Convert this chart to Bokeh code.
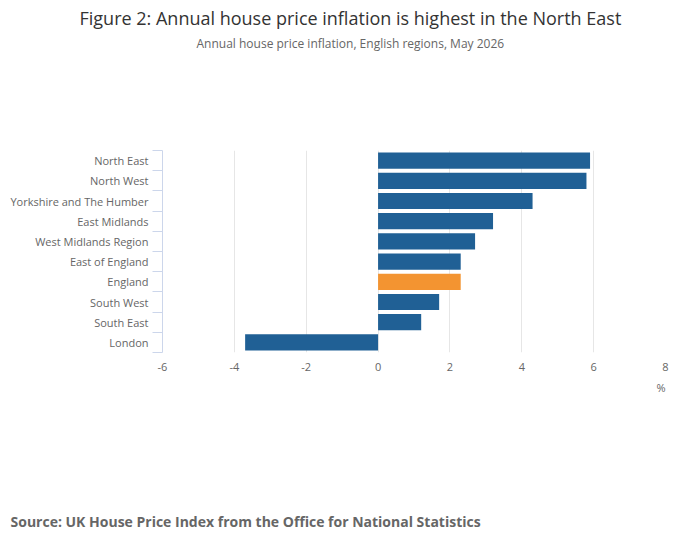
from bokeh.plotting import figure
from bokeh.models import ColumnDataSource, Range1d, FixedTicker, Title
from bokeh.embed import file_html
from bokeh.resources import INLINE

# ---- data ----
regions = ["North East", "North West", "Yorkshire and The Humber", "East Midlands",
           "West Midlands Region", "East of England", "England", "South West",
           "South East", "London"]
inflation = [5.9, 5.8, 4.3, 3.2, 2.7, 2.3, 2.3, 1.7, 1.2, -3.7]
x_ticks = [-6, -4, -2, 0, 2, 4, 6, 8]
x_tick_labels = ["-6", "-4", "-2", "0", "2", "4", "6", "8"]

title_text = "Figure 2: Annual house price inflation is highest in the North East"
subtitle_text = "Annual house price inflation, English regions, May 2026"
source_text = "Source: UK House Price Index from the Office for National Statistics"
unit_text = "%"

BLUE = "#206095"
ORANGE = "#F39431"
FONT = "Open Sans"

n = len(regions)
pos = [n - 1 - i for i in range(n)]
colors = [ORANGE if r == "England" else BLUE for r in regions]
src = ColumnDataSource(dict(y=pos, v=inflation, c=colors, name=regions))

p = figure(width=700, height=549, output_backend="svg", toolbar_location=None,
           title=None,
           x_range=Range1d(-6, 8), y_range=Range1d(-0.5, n - 0.5),
           min_border_left=162, min_border_right=35, min_border_top=150,
           min_border_bottom=197)
p.outline_line_color = None
p.background_fill_color = "white"
p.border_fill_color = "white"

p.hbar(y="y", left=0, right="v", height=0.8, color="c", line_color=None, source=src)

# x axis
p.xaxis.ticker = FixedTicker(ticks=x_ticks)
p.xaxis.major_label_overrides = {t: l for t, l in zip(x_ticks, x_tick_labels)}
p.xaxis.axis_line_color = None
p.xaxis.major_tick_line_color = None
p.xaxis.minor_tick_line_color = None
p.xaxis.major_tick_out = 0
p.xaxis.major_tick_in = 0
p.xaxis.minor_tick_out = 0
p.xaxis.minor_tick_in = 0
p.xaxis.major_label_text_font = FONT
p.xaxis.major_label_text_font_size = "11px"
p.xaxis.major_label_text_color = "#666666"
p.xaxis.major_label_standoff = 10

p.xgrid.ticker = FixedTicker(ticks=x_ticks)
p.xgrid.grid_line_color = "#e6e6e6"
p.xgrid.grid_line_width = 1
p.ygrid.grid_line_color = None

# y axis: labels at centres, ticks at boundaries
boundaries = [i - 0.5 for i in range(n + 1)]
p.yaxis.ticker = FixedTicker(ticks=pos, minor_ticks=boundaries)
p.yaxis.major_label_overrides = {pp: r for pp, r in zip(pos, regions)}
p.yaxis.axis_line_color = "#ccd6eb"
p.yaxis.major_tick_line_color = None
p.yaxis.major_tick_out = 0
p.yaxis.major_tick_in = 0
p.yaxis.minor_tick_line_color = "#ccd6eb"
p.yaxis.minor_tick_out = 10
p.yaxis.minor_tick_in = 0
p.yaxis.major_label_text_font = FONT
p.yaxis.major_label_text_font_size = "11px"
p.yaxis.major_label_text_color = "#666666"
p.yaxis.major_label_standoff = 4

# above (first added = closest to the plot): spacer, subtitle, title
p.add_layout(Title(text=" ", text_font=FONT, text_font_size="12px",
                   text_color="#ffffff", align="left", standoff=79), "above")
p.add_layout(Title(text=subtitle_text, text_font=FONT, text_font_size="12px",
                   text_font_style="normal", text_color="#666666",
                   align="left", offset=34, standoff=2), "above")
p.add_layout(Title(text=title_text, text_font=FONT, text_font_size="18px",
                   text_font_style="normal", text_color="#333333",
                   align="left", offset=-83, standoff=4), "above")

# below: unit label, spacer, source
p.add_layout(Title(text=unit_text, text_font=FONT, text_font_size="11px",
                   text_font_style="normal", text_color="#666666",
                   align="right", offset=0, standoff=8), "below")
p.add_layout(Title(text=" ", text_font=FONT, text_font_size="12px",
                   text_color="#ffffff", align="left", standoff=90), "below")
p.add_layout(Title(text=source_text, text_font=FONT, text_font_size="14px",
                   text_font_style="bold", text_color="#666666",
                   align="left", offset=-152, standoff=4), "below")

open("out.html", "w").write(file_html(p, INLINE))
